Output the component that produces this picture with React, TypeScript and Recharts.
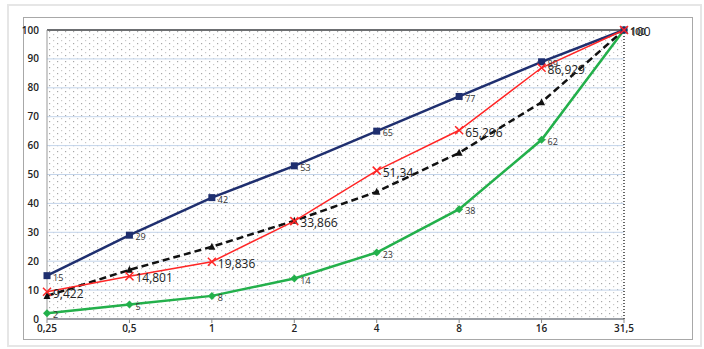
import {
  LineChart,
  Line,
  XAxis,
  YAxis,
  CartesianGrid,
  LabelList,
  ReferenceLine,
} from "recharts";

const sizes = ["0,25", "0,5", "1", "2", "4", "8", "16", "31,5"];
const upperCurve = [15, 29, 42, 53, 65, 77, 89, 100];
const sampleCurve = [9.422, 14.801, 19.836, 33.866, 51.34, 65.296, 86.929, 100];
const middleCurve = [8, 17, 25, 34, 44, 57.5, 75, 100];
const lowerCurve = [2, 5, 8, 14, 23, 38, 62, 100];
const yTicks = [0, 10, 20, 30, 40, 50, 60, 70, 80, 90, 100];

const data = sizes.map((size, i) => ({
  size,
  upper: upperCurve[i],
  sample: sampleCurve[i],
  middle: middleCurve[i],
  lower: lowerCurve[i],
}));

const fmt = (v: any) => String(v).replace(".", ",");

const squareDot = (color: string) => (p: any) => (
  <rect key={p.index} x={p.cx - 3.5} y={p.cy - 3.5} width={7} height={7} fill={color} />
);
const crossDot = (color: string) => (p: any) => (
  <path
    key={p.index}
    d={`M${p.cx - 4},${p.cy - 4}L${p.cx + 4},${p.cy + 4}M${p.cx - 4},${p.cy + 4}L${p.cx + 4},${p.cy - 4}`}
    stroke={color}
    strokeWidth={1.5}
    fill="none"
  />
);
const triangleDot = (color: string) => (p: any) => (
  <path
    key={p.index}
    d={`M${p.cx},${p.cy - 4}L${p.cx + 3.5},${p.cy + 3}L${p.cx - 3.5},${p.cy + 3}Z`}
    fill={color}
  />
);
const diamondDot = (color: string) => (p: any) => (
  <path
    key={p.index}
    d={`M${p.cx},${p.cy - 4}L${p.cx + 4},${p.cy}L${p.cx},${p.cy + 4}L${p.cx - 4},${p.cy}Z`}
    fill={color}
  />
);

const tickStyle = { fill: "#222", fontSize: 10, fontWeight: 600, fontFamily: "Open Sans" };

export default function App() {
  return (
    <div style={{ position: "absolute", left: 0, top: 0, width: 704, height: 349, background: "#fff" }}>
      <div
        style={{
          position: "absolute",
          left: 7,
          top: 4,
          width: 691,
          height: 339,
          border: "2px solid #e6e6e6",
        }}
      />
      <div
        style={{
          position: "absolute",
          left: 23,
          top: 17,
          width: 668,
          height: 321,
          border: "1px solid #a8a8a8",
        }}
      />
      <div style={{ position: "absolute", left: 0, top: 0 }}>
        <LineChart
          width={704}
          height={349}
          data={data}
          margin={{ top: 30, right: 80, bottom: 0, left: 0 }}
        >
          <defs>
            <pattern id="dots" width="8" height="6" patternUnits="userSpaceOnUse">
              <rect x="1" y="1" width="1.2" height="1.2" fill="#a8a8a8" />
              <rect x="5" y="4" width="1.2" height="1.2" fill="#c8c8c8" />
            </pattern>
          </defs>
          <CartesianGrid vertical={false} stroke="#c3d4ea" fill="url(#dots)" fillOpacity={1} />
          <XAxis
            dataKey="size"
            height={30}
            tick={tickStyle}
            tickSize={4}
            stroke="#555"
            tickLine={{ stroke: "#888" }}
          />
          <YAxis
            width={47}
            domain={[0, 100]}
            ticks={yTicks}
            interval={0}
            tick={tickStyle}
            tickLine={false}
            stroke="#999"
          />
          <ReferenceLine y={100} stroke="#444" strokeWidth={1.5} />
          <ReferenceLine x="31,5" stroke="#333" strokeWidth={1.5} strokeDasharray="1 2" />
          <Line
            dataKey="lower"
            stroke="#23b04b"
            strokeWidth={2.5}
            dot={diamondDot("#23b04b")}
            isAnimationActive={false}
          >
            <LabelList dataKey="lower" position="right" offset={6} dy={2} fill="#333" fontSize={9} fontFamily="Open Sans" />
          </Line>
          <Line
            dataKey="middle"
            stroke="#111"
            strokeWidth={2.5}
            strokeDasharray="7 4"
            dot={triangleDot("#111")}
            isAnimationActive={false}
          />
          <Line
            dataKey="upper"
            stroke="#1f2f6f"
            strokeWidth={2.5}
            dot={squareDot("#1f2f6f")}
            isAnimationActive={false}
          >
            <LabelList dataKey="upper" position="right" offset={6} dy={2} fill="#333" fontSize={9} fontFamily="Open Sans" />
          </Line>
          <Line
            dataKey="sample"
            stroke="#ff2626"
            strokeWidth={1.5}
            dot={crossDot("#ff2626")}
            isAnimationActive={false}
          >
            <LabelList
              dataKey="sample"
              position="right"
              offset={6}
              dy={2}
              fill="#222"
              fontSize={12}
              fontFamily="Open Sans"
              formatter={fmt}
            />
          </Line>
        </LineChart>
      </div>
    </div>
  );
}
